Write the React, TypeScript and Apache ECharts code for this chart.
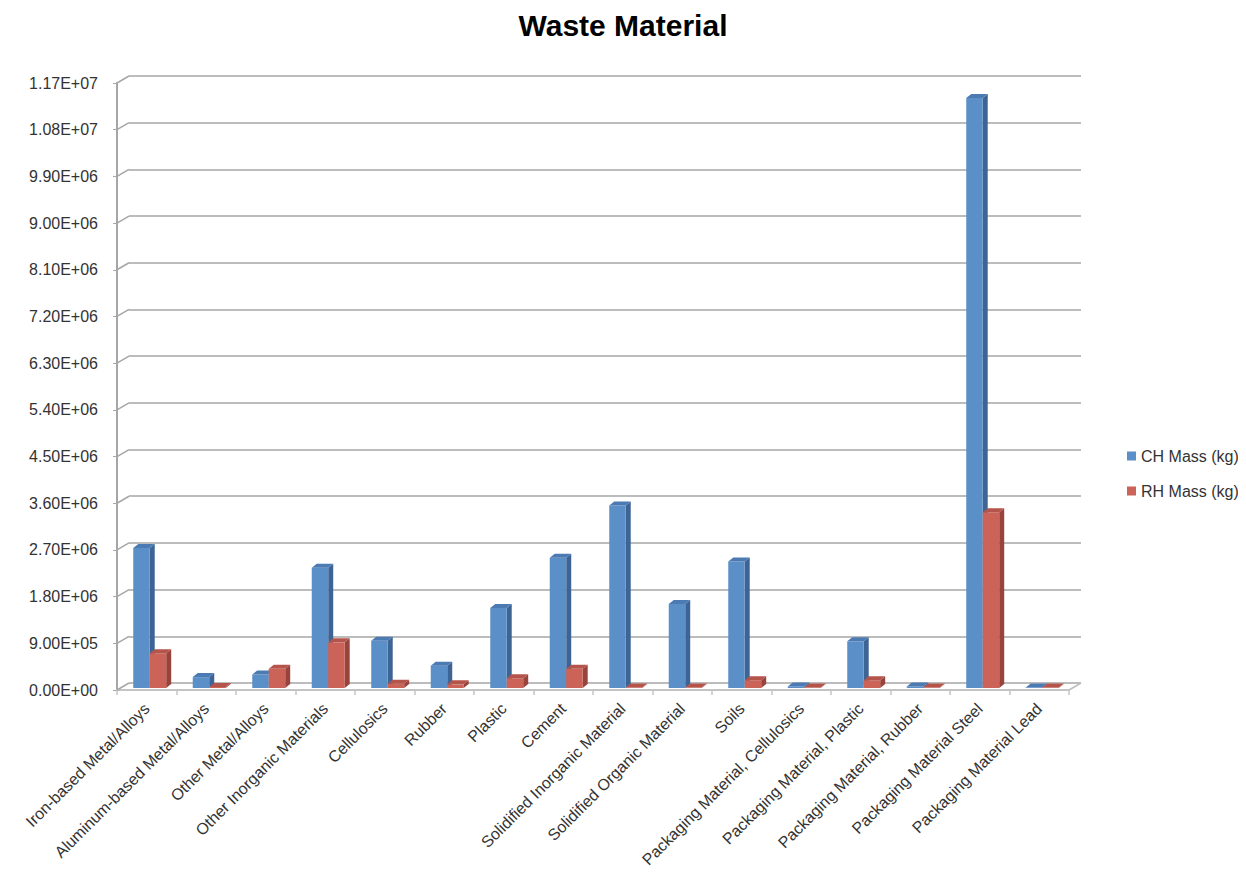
import React, { useEffect, useRef } from "react";
import * as echarts from "echarts";

const categories = [
  "Iron-based Metal/Alloys",
  "Aluminum-based Metal/Alloys",
  "Other Metal/Alloys",
  "Other Inorganic Materials",
  "Cellulosics",
  "Rubber",
  "Plastic",
  "Cement",
  "Solidified Inorganic Material",
  "Solidified Organic Material",
  "Soils",
  "Packaging Material, Cellulosics",
  "Packaging Material, Plastic",
  "Packaging Material, Rubber",
  "Packaging Material Steel",
  "Packaging Material Lead",
];

const chMass = [
  2.7e6, 0.21e6, 0.26e6, 2.32e6, 0.91e6, 0.43e6, 1.54e6, 2.51e6, 3.52e6, 1.62e6,
  2.44e6, 0.03e6, 0.9e6, 0.03e6, 11.37e6, 0.01e6,
];
const rhMass = [
  0.67e6, 0.02e6, 0.37e6, 0.88e6, 0.08e6, 0.07e6, 0.19e6, 0.37e6, 0.01e6, 0.01e6,
  0.15e6, 0.01e6, 0.15e6, 0.01e6, 3.39e6, 0.01e6,
];

const yTicks = [
  0, 9e5, 1.8e6, 2.7e6, 3.6e6, 4.5e6, 5.4e6, 6.3e6, 7.2e6, 8.1e6, 9e6, 9.9e6, 1.08e7, 1.17e7,
];

const FONT = "Liberation Sans";
const DX = 12;
const DY = -7;

function fmtExp(v: number): string {
  const s = v.toExponential(2);
  const [m, e] = s.split("e");
  const sign = e[0] === "-" ? "-" : "+";
  const digits = e.replace(/^[+-]/, "").padStart(2, "0");
  return `${m}E${sign}${digits}`;
}

const colors = [
  { front: "#5B8FC7", side: "#3D6494", top: "#4C7AB2" },
  { front: "#CB6359", side: "#98433C", top: "#B4544B" },
];

function barRender(si: number) {
  return (params: any, api: any) => {
    const idx = api.value(0);
    const v = api.value(1);
    const c = api.coord([idx, 0]);
    const t = api.coord([idx, v]);
    const band = api.size([1, 0])[0];
    const w = band * 0.277;
    const x = c[0] - band * 0.227 + si * w;
    const yb = c[1] - 2;
    const yt = Math.min(t[1] - 2, yb - 0.5);
    const dx = 5;
    const dy = -4;
    const col = colors[si];
    return {
      type: "group",
      children: [
        {
          type: "polygon",
          shape: {
            points: [
              [x + w, yt],
              [x + w + dx, yt + dy],
              [x + w + dx, yb + dy],
              [x + w, yb],
            ],
          },
          style: { fill: col.side },
        },
        {
          type: "rect",
          shape: { x, y: yt, width: w, height: yb - yt },
          style: { fill: col.front },
        },
        {
          type: "polygon",
          shape: {
            points: [
              [x, yt],
              [x + w, yt],
              [x + w + dx, yt + dy],
              [x + dx, yt + dy],
            ],
          },
          style: { fill: col.top },
        },
      ],
    };
  };
}

function connectorRender(params: any, api: any) {
  const v = api.value(1);
  const cs = params.coordSys;
  const p = api.coord([0, v]);
  const children: any[] = [
    {
      type: "line",
      shape: { x1: cs.x, y1: p[1], x2: cs.x + DX, y2: p[1] + DY },
      style: { stroke: "#a6a6a6", lineWidth: 1.5 },
    },
  ];
  if (v === 0) {
    children.push({
      type: "line",
      shape: {
        x1: cs.x + cs.width,
        y1: p[1],
        x2: cs.x + cs.width + DX,
        y2: p[1] + DY,
      },
      style: { stroke: "#bdbdbd", lineWidth: 1.5 },
    });
  }
  return { type: "group", children };
}

export default function App() {
  const ref = useRef<HTMLDivElement>(null);
  useEffect(() => {
    if (!ref.current) return;
    const chart = echarts.init(ref.current, undefined, { renderer: "svg" });
    const left = 117;
    const right = 1246 - 1069;
    const top = 83;
    const bottom = 881 - 690;
    chart.setOption({
      animation: false,
      backgroundColor: "#ffffff",
      textStyle: { fontFamily: FONT },
      title: {
        text: "Waste Material",
        left: "center",
        top: 5,
        textStyle: { fontFamily: FONT, fontSize: 30, fontWeight: "bold", color: "#000" },
      },
      legend: {
        orient: "vertical",
        left: 1122,
        top: 443,
        itemWidth: 9,
        itemHeight: 9,
        itemGap: 19,
        icon: "rect",
        textStyle: { fontFamily: FONT, fontSize: 16, color: "#333" },
        data: ["CH Mass (kg)", "RH Mass (kg)"],
      },
      grid: [
        { left, right, top, bottom },
        { left: left + DX, right: right - DX, top: top + DY, bottom: bottom - DY },
      ],
      xAxis: [
        {
          gridIndex: 0,
          type: "category",
          data: categories,
          axisLine: { show: true, lineStyle: { color: "#c4c4c4", width: 2 } },
          axisTick: { show: true, length: 5, lineStyle: { color: "#c4c4c4", width: 1.5 } },
          axisLabel: {
            interval: 0,
            rotate: 45,
            margin: 16,
            fontFamily: FONT,
            fontSize: 16,
            color: "#333",
          },
          splitLine: { show: false },
        },
        {
          gridIndex: 1,
          type: "category",
          data: categories,
          show: false,
        },
      ],
      yAxis: [
        {
          gridIndex: 0,
          type: "value",
          min: 0,
          max: 1.17e7,
          interval: 9e5,
          axisLine: { show: true, lineStyle: { color: "#a6a6a6", width: 2 } },
          axisTick: { show: true, length: 4, lineStyle: { color: "#a6a6a6" } },
          axisLabel: {
            margin: 19,
            fontFamily: FONT,
            fontSize: 16,
            color: "#333",
            formatter: (v: number) => fmtExp(v),
          },
          splitLine: { show: false },
        },
        {
          gridIndex: 1,
          type: "value",
          min: 0,
          max: 1.17e7,
          interval: 9e5,
          axisLine: { show: false },
          axisTick: { show: false },
          axisLabel: { show: false },
          splitLine: { show: true, lineStyle: { color: "#a6a6a6", width: 1.5 } },
        },
      ],
      series: [
        {
          type: "custom",
          name: "connectors",
          xAxisIndex: 0,
          yAxisIndex: 0,
          silent: true,
          renderItem: connectorRender,
          data: yTicks.map((v) => [0, v]),
          z: 1,
        },
        {
          type: "custom",
          name: "CH Mass (kg)",
          xAxisIndex: 0,
          yAxisIndex: 0,
          itemStyle: { color: colors[0].front },
          renderItem: barRender(0),
          data: chMass.map((v, i) => [i, v]),
          z: 3,
          clip: false,
        },
        {
          type: "custom",
          name: "RH Mass (kg)",
          xAxisIndex: 0,
          yAxisIndex: 0,
          itemStyle: { color: colors[1].front },
          renderItem: barRender(1),
          data: rhMass.map((v, i) => [i, v]),
          z: 4,
          clip: false,
        },
      ],
    });
    return () => chart.dispose();
  }, []);
  return <div ref={ref} style={{ width: 1246, height: 881, margin: -8 }} />;
}
